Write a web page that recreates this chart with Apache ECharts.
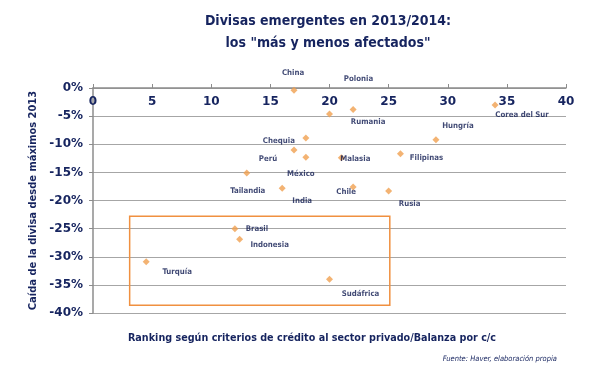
<!DOCTYPE html>
<html><head><meta charset="utf-8">
<script src="https://cdn.jsdelivr.net/npm/echarts@6/dist/echarts.min.js"></script>
<style>html,body{margin:0;padding:0;background:#fff}#c{width:616px;height:371px}</style>
</head><body><div id="c"></div>
<script>
// ---- data ----
const countries = ["China","Polonia","Rumania","Corea del Sur","Hungría","Chequia","Perú","México","Malasia","Filipinas","Tailandia","India","Chile","Rusia","Brasil","Indonesia","Turquía","Sudáfrica"];
const ranking   = [17, 20, 22, 34, 29, 18, 17, 18, 21, 26, 13, 16, 22, 25, 12, 12.4, 4.5, 20];
const caida     = [-0.4, -4.6, -3.8, -3.0, -9.2, -8.9, -11.0, -12.3, -12.4, -11.7, -15.1, -17.8, -17.6, -18.3, -25.0, -26.9, -30.9, -34.0];
const yTicks = ["0%","-5%","-10%","-15%","-20%","-25%","-30%","-35%","-40%"];
const xTicks = [0,5,10,15,20,25,30,35,40];
const highlightBox = { xFrom: 3.1, xTo: 25.1, yFrom: -22.8, yTo: -38.6 };

// ---- layout (label offsets in px, purely presentational) ----
const labelOffsets = {
  "China":[-1,-17],"Polonia":[29,-35],"Rumania":[15,13],"Corea del Sur":[27,10],
  "Hungría":[22,-14],"Chequia":[-27,3],"Perú":[-26,9],"México":[-5,17],
  "Malasia":[14,1],"Filipinas":[26,4],"Tailandia":[1,18],"India":[20,13],
  "Chile":[-7,5],"Rusia":[21,13],"Brasil":[22,0],"Indonesia":[30,6],
  "Turquía":[31,10],"Sudáfrica":[31,15]
};

const navy = '#16245f';
const font = 'DejaVu Sans';
const cfont = "'DejaVu Sans Condensed', 'DejaVu Sans'";
const pts = countries.map((n,i)=>({
  name:n, value:[ranking[i], caida[i]],
  label:{offset: labelOffsets[n]}
}));

const chart = echarts.init(document.getElementById('c'));
chart.setOption({
  animation:false,
  title:[
    {text:'Divisas emergentes en 2013/2014:\nlos "más y menos afectados"', left:323, top:5, textAlign:'center',
     textStyle:{fontFamily:cfont,fontSize:14,fontWeight:'bold',color:navy,lineHeight:22}},
    {text:'Ranking según criterios de crédito al sector privado/Balanza por c/c', left:307, top:328, textAlign:'center',
     textStyle:{fontFamily:cfont,fontSize:10.7,fontWeight:'bold',color:navy}},
    {text:'Fuente: Haver, elaboración propia', right:54, top:350,
     textStyle:{fontFamily:cfont,fontSize:7.5,fontStyle:'italic',fontWeight:'normal',color:navy}}
  ],
  grid:{left:93,right:50,top:88,bottom:58},
  xAxis:{
    type:'value', position:'top', min:0, max:40, interval:5,
    axisLine:{show:true,onZero:false,lineStyle:{color:'#8c8c8c',width:1.5}},
    axisTick:{show:true,inside:false,length:4,lineStyle:{color:'#8c8c8c'}},
    axisLabel:{inside:true,margin:8,fontFamily:font,fontSize:12,fontWeight:'bold',color:navy,
      formatter:v=>xTicks.indexOf(v)>=0?String(v):''},
    splitLine:{show:false}
  },
  yAxis:{
    type:'value', min:-40, max:0, interval:5,
    name:'Caída de la divisa desde máximos 2013', nameLocation:'middle', nameGap:49, nameRotate:90,
    nameTextStyle:{fontFamily:cfont,fontSize:11,fontWeight:'bold',color:navy},
    axisLine:{show:true,lineStyle:{color:'#8c8c8c',width:1.5}},
    axisTick:{show:true,length:4,lineStyle:{color:'#8c8c8c'}},
    axisLabel:{margin:10,fontFamily:font,fontSize:12,fontWeight:'bold',color:navy,
      formatter:v=>yTicks[Math.round(-v/5)]},
    splitLine:{show:true,lineStyle:{color:'#a6a6a6',width:1.2}}
  },
  series:[{
    type:'scatter', symbol:'diamond', symbolSize:7,
    itemStyle:{color:'#f0a050'},
    label:{show:true,position:'inside',formatter:p=>p.name,fontFamily:cfont,fontSize:7.8,fontWeight:'bold',color:'#0f1a50'},
    data:pts,
    markArea:{silent:true,
      itemStyle:{color:'rgba(0,0,0,0)',borderColor:'#f09040',borderWidth:1.5},
      data:[[{coord:[highlightBox.xFrom,highlightBox.yFrom]},{coord:[highlightBox.xTo,highlightBox.yTo]}]]}
  }]
});
</script></body></html>
